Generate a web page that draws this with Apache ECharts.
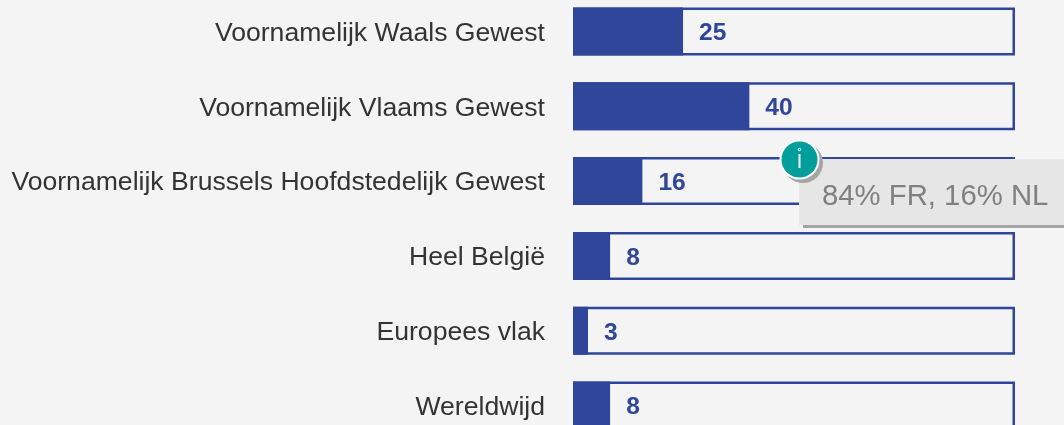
<!DOCTYPE html>
<html>
<head>
<meta charset="utf-8">
<style>html,body{margin:0;padding:0;background:#f4f4f4}#c{width:1064px;height:425px}</style>
<script src="https://cdn.jsdelivr.net/npm/echarts@6/dist/echarts.min.js"></script>
</head>
<body>
<div id="c"></div>
<script>
const categories = ['Voornamelijk Waals Gewest','Voornamelijk Vlaams Gewest','Voornamelijk Brussels Hoofdstedelijk Gewest','Heel België','Europees vlak','Wereldwijd'];
const values = [24.9,39.9,15.7,8.4,3.4,8.4];
const totals = [100,100,100,100,100,100];
const note = '84% FR, 16% NL';
const BLUE = '#2f469b';
const chart = echarts.init(document.getElementById('c'),null,{renderer:'canvas'});
chart.setOption({
  backgroundColor:'#f4f4f4',
  animation:false,
  grid:{left:573,width:442,top:-6,height:449,containLabel:false,outerBoundsMode:'none'},
  xAxis:{type:'value',min:0,max:100,show:false},
  yAxis:{type:'category',inverse:true,data:categories,
    axisLine:{show:false},axisTick:{show:false},splitLine:{show:false},
    axisLabel:{color:'#333333',fontFamily:'Liberation Sans',fontSize:26.6,margin:28,align:'right',verticalAlign:'top',lineHeight:4,hideOverlap:false,showMinLabel:true,showMaxLabel:true}},
  series:[
    {type:'bar',data:totals,barWidth:48,barGap:'-100%',silent:true,
      itemStyle:{color:'#f4f4f4',borderColor:BLUE,borderWidth:2.5},z:2},
    {type:'bar',data:values,barWidth:48,barGap:'-100%',silent:true,
      itemStyle:{color:BLUE},z:3,
      label:{show:true,position:'right',distance:16,offset:[0,2],formatter:p=>Math.round(p.value),color:BLUE,fontFamily:'Liberation Sans',fontWeight:'bold',fontSize:24.6}}
  ],
  graphic:[
    {type:'rect',z:10,shape:{x:803,y:163,width:265,height:65},style:{fill:'#a6a6a6'}},
    {type:'rect',z:11,shape:{x:799,y:159,width:270,height:66},style:{fill:'#e6e6e6'}},
    {type:'text',z:12,x:822,y:197,style:{text:note,fill:'#808080',font:'29.3px "Liberation Sans"',verticalAlign:'middle',align:'left'}},
    {type:'circle',z:13,shape:{cx:803,cy:163,r:20},style:{fill:'#a6a6a6'}},
    {type:'circle',z:14,shape:{cx:799.5,cy:159.5,r:20},style:{fill:'#ffffff'}},
    {type:'circle',z:15,shape:{cx:799.5,cy:159.5,r:18},style:{fill:'#009e9a'}},
    {type:'line',z:16,shape:{x1:799.5,y1:154,x2:799.5,y2:168},style:{stroke:'#ffffff',lineWidth:2}},
    {type:'circle',z:16,shape:{cx:799.5,cy:149.5,r:1.2},style:{fill:'#009e9a',stroke:'#ffffff',lineWidth:1}}
  ]
});
</script>
</body>
</html>
